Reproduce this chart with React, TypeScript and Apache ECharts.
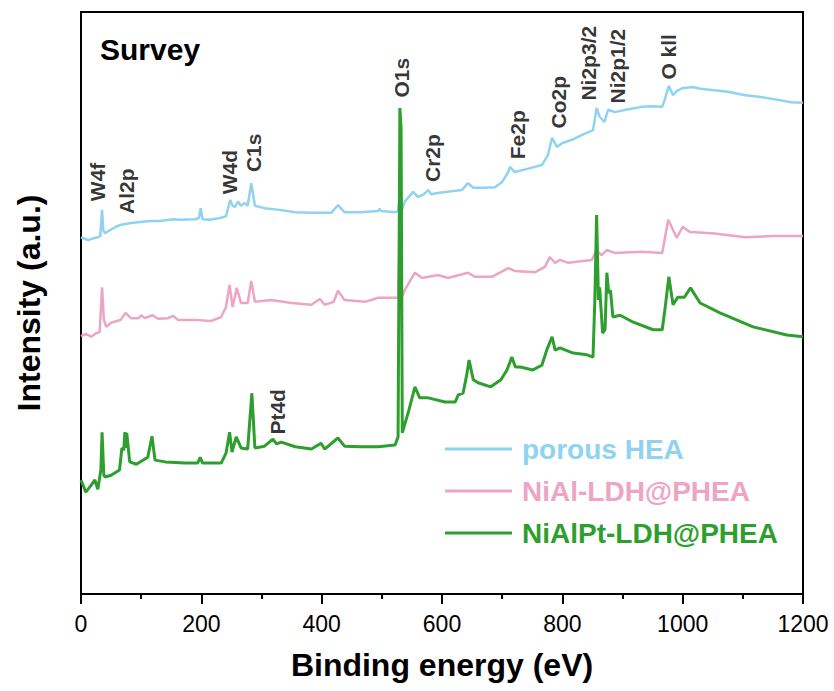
import React, { useEffect, useRef } from "react";
import * as echarts from "echarts";

// XPS survey spectra: [binding energy (eV), intensity (a.u.)]
const porousHEA: [number, number][] = [
  [0, 61.3], [7, 61.0], [12, 60.8], [20, 61.1], [28, 61.3], [32, 61.5], [35, 66.0], [37, 62.5],
  [40, 62.0], [48, 62.5], [58, 63.1], [65, 63.4], [81, 63.7], [98, 63.9], [115, 64.1], [131, 64.1],
  [153, 64.4], [165, 64.3], [190, 64.4], [196, 64.6], [199, 66.3], [202, 64.4], [214, 64.3],
  [231, 64.6], [241, 64.9], [248, 67.7], [252, 66.7], [256, 66.5], [261, 67.4], [266, 66.7],
  [272, 67.2], [277, 66.7], [283, 70.6], [289, 66.7], [305, 66.3], [330, 66.0], [356, 65.6],
  [383, 65.5], [416, 65.5], [427, 66.8], [438, 65.6], [465, 65.6], [494, 65.8], [496, 66.2],
  [499, 65.8], [522, 65.6], [527, 65.8], [530, 68.6], [533, 65.8], [538, 67.4], [552, 69.1],
  [560, 68.2], [570, 68.7], [577, 69.4], [582, 68.7], [593, 68.9], [615, 69.2], [633, 69.4],
  [643, 70.6], [652, 69.8], [670, 69.8], [688, 69.9], [700, 70.8], [710, 72.5], [713, 73.4],
  [721, 72.5], [740, 73.0], [766, 73.7], [776, 75.4], [783, 78.4], [791, 76.8], [800, 77.5],
  [815, 78.0], [833, 78.9], [851, 79.7], [857, 83.5], [862, 82.0], [870, 81.1], [876, 83.2],
  [887, 82.8], [910, 83.3], [932, 83.7], [950, 83.8], [966, 83.7], [970, 84.9], [977, 87.3],
  [984, 85.7], [990, 86.4], [999, 86.9], [1016, 87.1], [1030, 86.8], [1049, 86.6], [1075, 86.3],
  [1104, 85.7], [1130, 85.4], [1159, 84.9], [1180, 84.5], [1200, 84.4],
];

const niAlLDH: [number, number][] = [
  [0, 44.3], [8, 44.7], [17, 44.2], [25, 44.8], [31, 45.0], [35, 52.7], [38, 47.1], [42, 45.9],
  [50, 46.6], [66, 47.1], [74, 48.3], [83, 47.4], [96, 47.4], [100, 47.9], [106, 47.4],
  [119, 47.9], [128, 47.3], [145, 47.4], [153, 47.8], [161, 47.1], [190, 47.1], [216, 46.9],
  [233, 47.6], [241, 49.3], [247, 53.1], [252, 49.3], [259, 52.6], [266, 50.0], [277, 50.0],
  [283, 53.8], [289, 50.2], [316, 50.5], [350, 50.0], [383, 49.7], [397, 50.7], [405, 49.7],
  [420, 50.2], [427, 52.1], [438, 50.5], [472, 50.2], [494, 50.9], [527, 50.9], [530, 62.5],
  [533, 50.9], [538, 52.2], [555, 55.2], [567, 54.3], [593, 54.8], [610, 54.3], [643, 55.2],
  [655, 54.5], [683, 54.5], [710, 56.0], [721, 55.5], [755, 55.3], [771, 56.2], [779, 57.9],
  [788, 56.9], [796, 57.4], [810, 56.9], [849, 57.4], [857, 59.1], [865, 58.2], [874, 59.1],
  [887, 58.6], [932, 58.8], [966, 58.6], [976, 64.3], [990, 61.2], [1000, 63.1], [1012, 62.2],
  [1049, 62.0], [1104, 61.3], [1150, 61.5], [1200, 61.5],
];

const niAlPtLDH: [number, number][] = [
  [0, 19.6], [8, 17.5], [17, 18.7], [23, 19.6], [28, 18.0], [33, 21.3], [35, 27.8], [38, 20.4],
  [40, 20.1], [50, 20.4], [64, 21.3], [68, 25.1], [71, 24.7], [73, 27.8], [74.5, 25.1], [76, 27.7],
  [81, 22.7], [92, 22.3], [111, 23.5], [118, 27.1], [123, 23.0], [140, 22.7], [173, 22.5],
  [194, 22.5], [198, 23.5], [202, 22.5], [233, 22.5], [241, 24.2], [247, 27.8], [251, 24.4],
  [258, 27.0], [266, 25.1], [277, 24.9], [284, 34.5], [289, 25.1], [305, 25.4], [319, 26.6],
  [325, 25.8], [333, 26.1], [356, 25.3], [383, 24.9], [399, 25.9], [405, 24.9], [427, 26.8],
  [438, 25.4], [466, 25.3], [494, 25.3], [522, 25.6], [527, 27.0], [530, 83.5], [532, 80.0],
  [534, 27.7], [545, 31.6], [555, 35.6], [563, 33.7], [577, 33.7], [605, 33.0], [622, 33.0],
  [627, 34.2], [635, 34.5], [641, 37.6], [645, 40.2], [652, 36.8], [660, 36.3], [681, 35.6],
  [698, 36.8], [708, 38.5], [716, 40.7], [722, 39.0], [730, 39.0], [751, 38.5], [766, 39.3],
  [774, 41.9], [783, 44.2], [788, 41.9], [796, 42.3], [818, 41.4], [841, 41.1], [851, 40.7],
  [854, 50.5], [857, 65.1], [860, 50.5], [862, 52.7], [867, 44.8], [871, 45.4], [874, 55.2],
  [877, 51.7], [880, 52.2], [884, 47.6], [896, 47.9], [918, 46.7], [951, 45.4], [966, 45.4],
  [971, 49.3], [977, 54.5], [984, 49.7], [992, 51.0], [1003, 51.0], [1013, 52.6], [1029, 50.0],
  [1062, 48.3], [1117, 45.9], [1173, 44.5], [1200, 44.2],
];

// Peak assignments, placed at [binding energy, intensity] (label centre)
const peakNames = ["W4f", "Al2p", "W4d", "C1s", "O1s", "Cr2p", "Fe2p", "Co2p", "Ni2p3/2", "Ni2p1/2", "O kll", "Pt4d"];
const peakEnergy = [26.6, 74.8, 246, 286, 532, 585, 726, 794, 844, 891, 977, 326];
const peakLevel = [70.8, 69.2, 72.5, 75.8, 88.7, 74.9, 78.9, 84.5, 91.2, 90.7, 92.3, 31.3];

const seriesNames = ["porous HEA", "NiAl-LDH@PHEA", "NiAlPt-LDH@PHEA"];
const seriesColors = ["#8fd3f1", "#eda5c3", "#2e9f2e"];

const xTicks = { min: 0, max: 1200, interval: 200 };

const FONT = "'Liberation Sans', Arial, Helvetica, sans-serif";

export default function App() {
  const ref = useRef<HTMLDivElement>(null);

  useEffect(() => {
    if (!ref.current) return;
    const chart = echarts.init(ref.current, undefined, { renderer: "svg" });
    const spectra = [porousHEA, niAlLDH, niAlPtLDH];

    chart.setOption({
      animation: false,
      backgroundColor: "#fff",
      title: {
        text: "Survey",
        left: 100,
        top: 34,
        padding: 0,
        textStyle: { fontFamily: FONT, fontSize: 30, fontWeight: "bold", color: "#000" },
      },
      legend: {
        orient: "vertical",
        left: 445,
        top: 434,
        padding: 0,
        icon: "rect",
        itemWidth: 67,
        itemHeight: 3,
        itemGap: 12,
        data: seriesNames.map((n, i) => ({
          name: n,
          textStyle: { color: seriesColors[i] },
        })),
        textStyle: {
          fontFamily: FONT,
          fontSize: 28,
          fontWeight: "bold",
          lineHeight: 30,
          padding: [0, 0, 0, 5],
        },
      },
      grid: {
        left: 81,
        right: 31,
        top: 12,
        bottom: 97,
        show: true,
        borderColor: "#000",
        borderWidth: 2,
        backgroundColor: "transparent",
      },
      xAxis: {
        type: "value",
        min: xTicks.min,
        max: xTicks.max,
        interval: xTicks.interval,
        name: "Binding energy (eV)",
        nameLocation: "middle",
        nameGap: 55,
        nameTextStyle: { fontFamily: FONT, fontSize: 32, fontWeight: "bold", color: "#000" },
        axisLine: { show: true, lineStyle: { color: "#000", width: 2 } },
        axisTick: { show: true, length: 10, lineStyle: { color: "#000", width: 2 } },
        minorTick: { show: true, splitNumber: 2, length: 5, lineStyle: { color: "#000", width: 2 } },
        axisLabel: {
          fontFamily: FONT,
          fontSize: 23,
          color: "#000",
          margin: 18,
          formatter: (v: number) => String(v),
        },
        splitLine: { show: false },
      },
      yAxis: {
        type: "value",
        min: 0,
        max: 100,
        name: "Intensity (a.u.)",
        nameLocation: "middle",
        nameGap: 36,
        nameTextStyle: { fontFamily: FONT, fontSize: 32, fontWeight: "bold", color: "#000" },
        axisLine: { show: true, lineStyle: { color: "#000", width: 2 } },
        axisTick: { show: false },
        axisLabel: { show: false },
        splitLine: { show: false },
      },
      series: [
        ...spectra.map((d, i) => ({
          name: seriesNames[i],
          type: "line",
          data: d,
          showSymbol: false,
          symbol: "none",
          color: seriesColors[i],
          lineStyle: { color: seriesColors[i], width: i === 2 ? 3 : 2.5 },
          z: 2 + i,
        })),
        {
          name: "peaks",
          type: "scatter",
          silent: true,
          symbolSize: 0,
          z: 10,
          data: peakNames.map((n, i) => ({ name: n, value: [peakEnergy[i], peakLevel[i]] })),
          label: {
            show: true,
            position: "inside",
            formatter: "{b}",
            rotate: 90,
            align: "center",
            verticalAlign: "middle",
            fontFamily: FONT,
            fontSize: 21,
            fontWeight: "bold",
            color: "#000",
          },
        },
      ],
    });

    return () => chart.dispose();
  }, []);

  return (
    <div
      ref={ref}
      style={{ position: "fixed", left: 0, top: 0, width: 834, height: 691 }}
    />
  );
}
